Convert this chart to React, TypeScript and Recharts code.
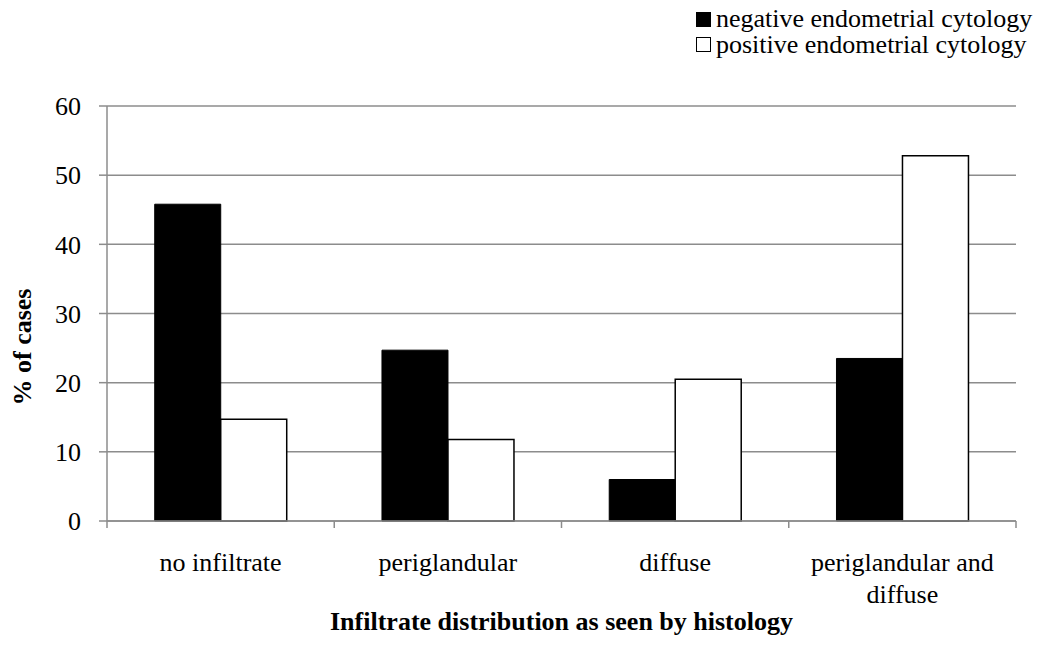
import React from 'react';
import { BarChart, Bar, XAxis, YAxis, CartesianGrid } from 'recharts';

const categories = ['no infiltrate', 'periglandular', 'diffuse', 'periglandular and\ndiffuse'];
const negativeValues = [45.8, 24.7, 6.0, 23.5];
const positiveValues = [14.7, 11.8, 20.5, 52.8];
const yTicks = [0, 10, 20, 30, 40, 50, 60];
const seriesNames = ['negative endometrial cytology', 'positive endometrial cytology'];
const xTitle = 'Infiltrate distribution as seen by histology';
const yTitle = '% of cases';

const data = categories.map((c, i) => ({ cat: c, neg: negativeValues[i], pos: positiveValues[i] }));

const FONT = '"Liberation Serif", "Times New Roman", serif';
const W = 1044;
const H = 657;
const LEFT = 107;
const RIGHT = 28;
const TOP = 106;
const XH = 136;
const catW = (W - LEFT - RIGHT) / categories.length;
const GRID = '#8c8c8c';

const XTick = (props: any) => {
  const { x, y, payload, index } = props;
  const isLast = index === categories.length - 1;
  const lines = String(payload.value).split('\n');
  return (
    <g>
      <line x1={x - catW / 2} x2={x - catW / 2} y1={y} y2={y + 7} stroke={GRID} strokeWidth={1.5} />
      {isLast && <line x1={x + catW / 2} x2={x + catW / 2} y1={y} y2={y + 7} stroke={GRID} strokeWidth={1.5} />}
      <text x={x} y={y + 49.5} textAnchor="middle" fontSize={26} fontFamily={FONT} fill="#000">
        {lines.map((l, i) => (
          <tspan key={i} x={x} dy={i === 0 ? 0 : 32}>{l}</tspan>
        ))}
      </text>
    </g>
  );
};

const XTitle = () => (
  <text x={LEFT + (W - LEFT - RIGHT) / 2} y={630} textAnchor="middle" fontSize={26} fontWeight="bold" fontFamily={FONT} fill="#000">
    {xTitle}
  </text>
);

const YTitle = () => (
  <text x={31} y={347} transform="rotate(-90, 31, 347)" textAnchor="middle" fontSize={26} fontWeight="bold" fontFamily={FONT} fill="#000">
    {yTitle}
  </text>
);

export default function App() {
  return (
    <div style={{ position: 'absolute', left: 0, top: 0, width: W, height: H, background: '#fff' }}>
      <BarChart
        width={W}
        height={H}
        data={data}
        margin={{ top: TOP, right: RIGHT, bottom: 0, left: 0 }}
        barCategoryGap="21%"
        barGap={0}
      >
        <CartesianGrid vertical={false} stroke={GRID} strokeWidth={1.5} />
        <XAxis
          dataKey="cat"
          height={XH}
          axisLine={{ stroke: GRID, strokeWidth: 1.5 }}
          tickLine={false}
          tickSize={0}
          tickMargin={0}
          interval={0}
          tick={<XTick />}
          label={<XTitle />}
        />
        <YAxis
          width={LEFT}
          domain={[0, 60]}
          ticks={yTicks}
          interval={0}
          axisLine={{ stroke: GRID, strokeWidth: 1.5 }}
          tickLine={{ stroke: GRID, strokeWidth: 1.5 }}
          tickSize={8}
          tickMargin={18}
          tick={{ fontSize: 26, fontFamily: FONT, fill: '#000' }}
          label={<YTitle />}
        />
        <Bar dataKey="neg" name={seriesNames[0]} fill="#000" stroke="#000" strokeWidth={1} isAnimationActive={false} />
        <Bar dataKey="pos" name={seriesNames[1]} fill="#fff" stroke="#000" strokeWidth={1.5} isAnimationActive={false} />
      </BarChart>
      <svg width={W} height={60} style={{ position: 'absolute', left: 0, top: 0 }}>
        <rect x={696} y={12} width={15} height={15} fill="#000" />
        <text x={716} y={27} fontSize={26} fontFamily={FONT} fill="#000">{seriesNames[0]}</text>
        <rect x={696.5} y={37.5} width={14} height={14} fill="#fff" stroke="#000" strokeWidth={1} />
        <text x={716} y={53} fontSize={26} fontFamily={FONT} fill="#000">{seriesNames[1]}</text>
      </svg>
    </div>
  );
}
